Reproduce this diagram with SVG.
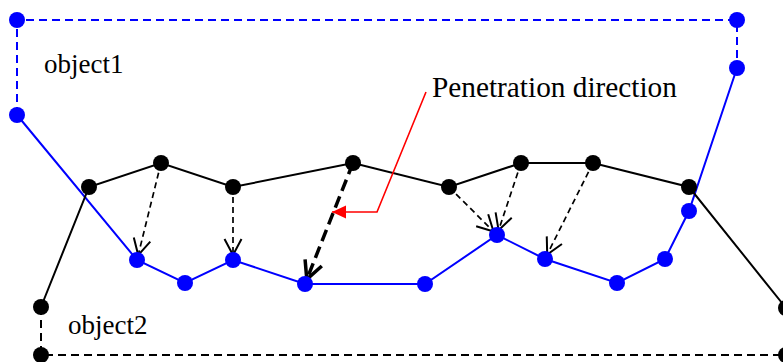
<svg xmlns="http://www.w3.org/2000/svg" width="783" height="362" viewBox="0 0 783 362">
<style>
.bl{fill:none;stroke:#0000ff;stroke-width:2}
.bld{fill:none;stroke:#0000ff;stroke-width:2;stroke-dasharray:8,5}
.k{fill:none;stroke:#000;stroke-width:2}
.kd{fill:none;stroke:#000;stroke-width:2;stroke-dasharray:8,5}
.arr{fill:none;stroke:#000;stroke-width:1.7;stroke-dasharray:6,4;marker-end:url(#v)}
.arrT{fill:none;stroke:#000;stroke-width:3.5;stroke-dasharray:12,6;marker-end:url(#vT)}
.red{fill:none;stroke:#ff0000;stroke-width:1.6;marker-end:url(#tri)}
.bn{fill:#0000ff}
.kn{fill:#000}
.t{font-family:"Liberation Serif","Times New Roman",serif;fill:#000}
</style>
<defs>
<marker id="v" markerUnits="userSpaceOnUse" markerWidth="30" markerHeight="30" refX="0" refY="0" viewBox="-20 -15 30 30" orient="auto" overflow="visible">
<path d="M-16,-8.5 L0,0 L-16,8.5" fill="none" stroke="#000" stroke-width="2"/>
</marker>
<marker id="vT" markerUnits="userSpaceOnUse" markerWidth="30" markerHeight="30" refX="0" refY="0" viewBox="-25 -15 30 30" orient="auto" overflow="visible">
<path d="M-18,-9 L0,0 L-18,9" fill="none" stroke="#000" stroke-width="3.5"/>
</marker>
<marker id="tri" markerUnits="userSpaceOnUse" markerWidth="20" markerHeight="20" refX="0" refY="0" viewBox="-16 -8 20 16" orient="auto" overflow="visible">
<path d="M-14,-6.5 L0,0 L-14,6.5 Z" fill="#ff0000"/>
</marker>
</defs>
<g id="connectors">
<polyline class="bld" points="17,115 17,20 737,20 737,68"/>
<polyline class="bl" points="17,115 137,260 185,283 233,260 305,284 425,284 497,235 545,259 617,283 665,259 689,211 737,68"/>
<polyline class="kd" points="41,307 41,355 790,355"/>
<polyline class="k" points="41,307 89,187 161,163 233,187 353,163 449,187 521,163 593,163 689,187 786,308"/>
<line class="arr" x1="161" y1="163" x2="138.2" y2="255.1"/>
<line class="arr" x1="233" y1="187" x2="233" y2="255"/>
<line class="arr" x1="449" y1="187" x2="493.5" y2="231.5"/>
<line class="arr" x1="521" y1="163" x2="498.6" y2="230.3"/>
<line class="arr" x1="593" y1="163" x2="547.2" y2="254.5"/>
<line class="arrT" x1="353" y1="163" x2="306.8" y2="279.4"/>
<polyline class="red" points="426,92 377,212 332,212"/>
</g>
<g id="object1-nodes">
<circle class="bn" cx="17" cy="20" r="8"/>
<circle class="bn" cx="17" cy="115" r="8"/>
<circle class="bn" cx="737" cy="20" r="8"/>
<circle class="bn" cx="737" cy="68" r="8"/>
<circle class="bn" cx="137" cy="260" r="8"/>
<circle class="bn" cx="185" cy="283" r="8"/>
<circle class="bn" cx="233" cy="260" r="8"/>
<circle class="bn" cx="305" cy="284" r="8"/>
<circle class="bn" cx="425" cy="284" r="8"/>
<circle class="bn" cx="497" cy="235" r="8"/>
<circle class="bn" cx="545" cy="259" r="8"/>
<circle class="bn" cx="617" cy="283" r="8"/>
<circle class="bn" cx="665" cy="259" r="8"/>
<circle class="bn" cx="689" cy="211" r="8"/>
</g>
<g id="object2-nodes">
<circle class="kn" cx="41" cy="307" r="8"/>
<circle class="kn" cx="41" cy="355" r="8"/>
<circle class="kn" cx="786" cy="355" r="8"/>
<circle class="kn" cx="786" cy="308" r="8"/>
<circle class="kn" cx="89" cy="187" r="8"/>
<circle class="kn" cx="161" cy="163" r="8"/>
<circle class="kn" cx="233" cy="187" r="8"/>
<circle class="kn" cx="353" cy="163" r="8"/>
<circle class="kn" cx="449" cy="187" r="8"/>
<circle class="kn" cx="521" cy="163" r="8"/>
<circle class="kn" cx="593" cy="163" r="8"/>
<circle class="kn" cx="689" cy="187" r="8"/>
</g>
<g id="labels">
<text class="t" x="44" y="73" font-size="27">object1</text>
<text class="t" x="68" y="334" font-size="27">object2</text>
<text class="t" x="432" y="97" font-size="29.3">Penetration direction</text>
</g>
</svg>
